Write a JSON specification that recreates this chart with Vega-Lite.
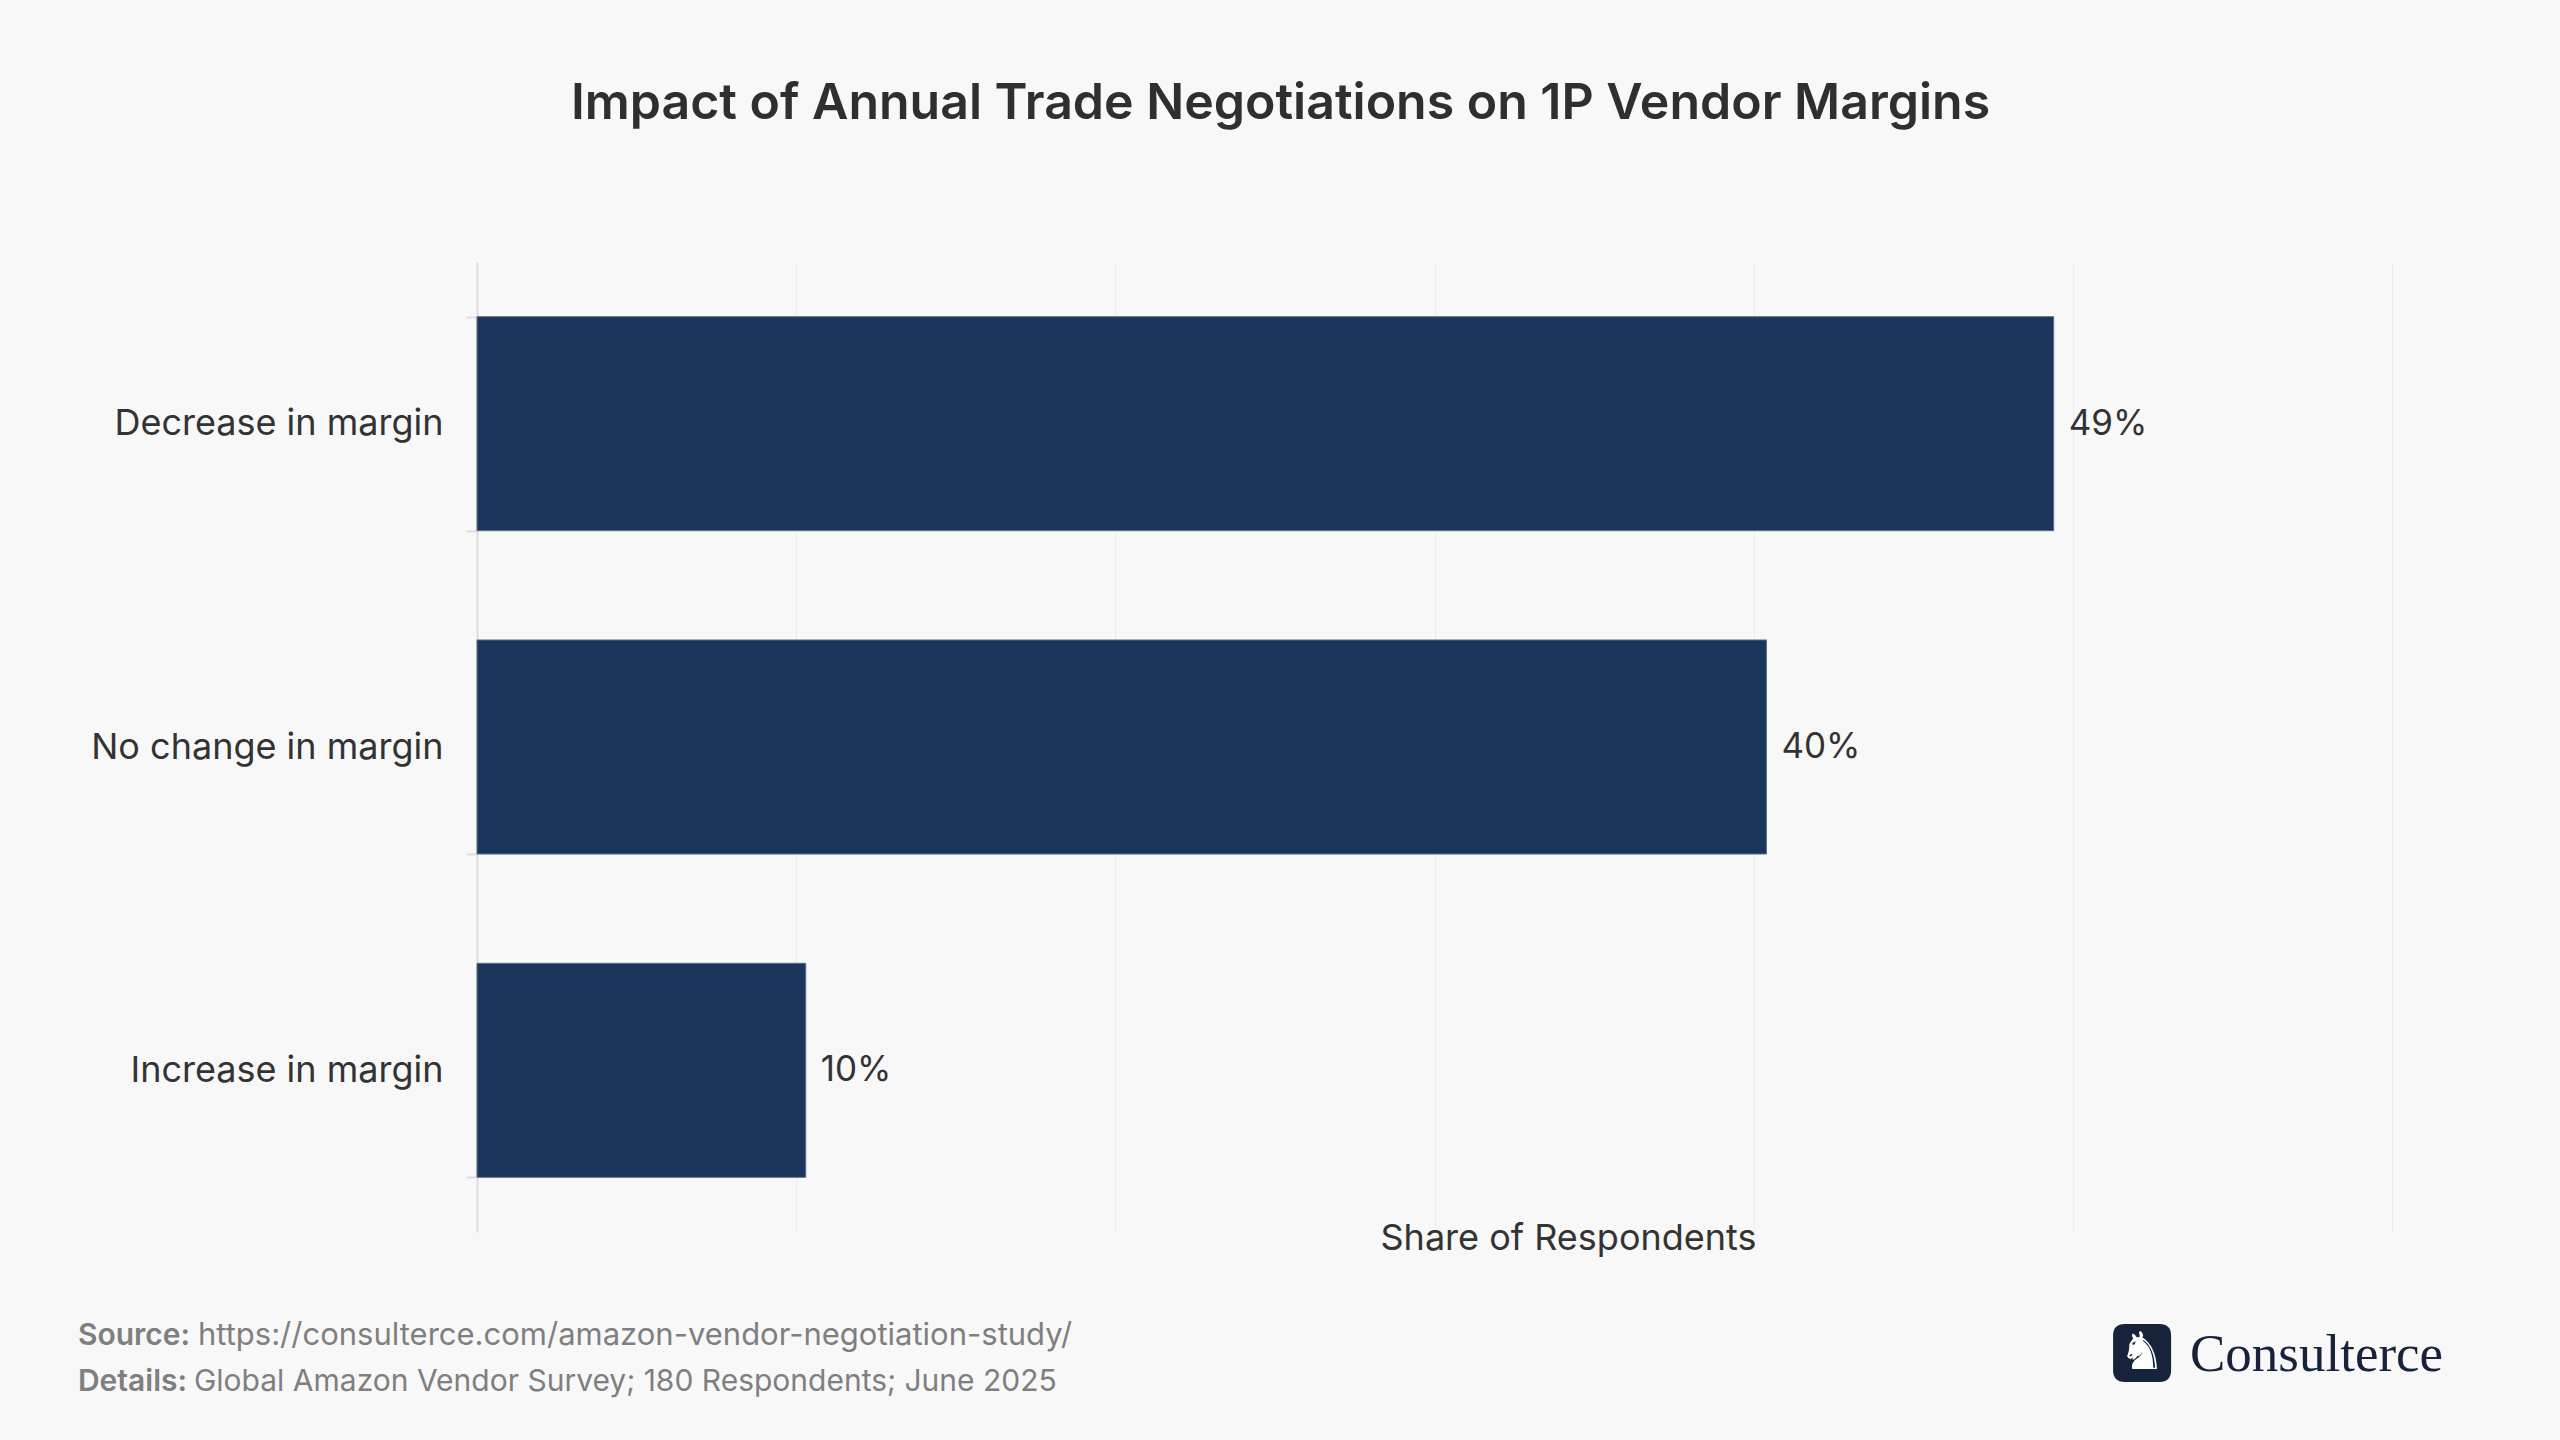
{
  "$schema": "https://vega.github.io/schema/vega-lite/v6.json",
  "width": 1915,
  "height": 970,
  "autosize": {"type": "none"},
  "padding": {"left": 477, "top": 262, "right": 168, "bottom": 208},
  "background": "#f8f8f8",
  "title": {
    "text": "Impact of Annual Trade Negotiations on 1P Vendor Margins",
    "anchor": "middle",
    "frame": "group",
    "dx": -154,
    "offset": 75,
    "font": "Inter",
    "fontSize": 50,
    "fontWeight": 600,
    "color": "#2f2f2f",
    "baseline": "alphabetic"
  },
  "config": {
    "view": {"stroke": null},
    "font": "Inter"
  },
  "layer": [
    {
      "data": {
        "values": [
          {"response": "Decrease in margin", "share": 0.494},
          {"response": "No change in margin", "share": 0.404},
          {"response": "Increase in margin", "share": 0.103}
        ]
      },
      "encoding": {
        "y": {
          "field": "response",
          "type": "nominal",
          "sort": null,
          "scale": {"paddingInner": 0.338, "paddingOuter": 0.169},
          "axis": {
            "title": null,
            "domainColor": "#dcdcdc",
            "domainWidth": 2,
            "tickColor": "#dcdcdc",
            "tickWidth": 2,
            "tickSize": 11,
            "tickBand": "extent",
            "labelPadding": 23,
            "labelLimit": 0,
            "labelFont": "Inter",
            "labelFontSize": 36,
            "labelColor": "#333333",
            "grid": false
          }
        },
        "x": {
          "field": "share",
          "type": "quantitative",
          "scale": {"domain": [0, 0.6], "nice": false},
          "axis": {
            "title": "Share of Respondents",
            "values": [0.1, 0.2, 0.3, 0.4, 0.5, 0.6],
            "grid": true,
            "gridColor": "#ececec",
            "gridWidth": 1,
            "labels": false,
            "ticks": false,
            "domain": false,
            "titleX": 1091,
            "titleY": 17,
            "titleAlign": "center",
            "titleBaseline": "alphabetic",
            "titleFont": "Inter",
            "titleFontSize": 36,
            "titleFontWeight": 400,
            "titleColor": "#333333"
          }
        }
      },
      "layer": [
        {"mark": {"type": "bar", "color": "#1b365d", "stroke": "#5b6d88", "strokeWidth": 1}},
        {
          "mark": {"type": "text", "align": "left", "baseline": "middle", "dx": 15, "font": "Inter", "fontSize": 35, "color": "#333333"},
          "encoding": {"text": {"field": "share", "type": "quantitative", "format": ".0%"}}
        }
      ]
    },
    {
      "layer": [
        {
          "data": {"values": [{"note": "Source:"}]},
          "mark": {"type": "text", "align": "left", "baseline": "alphabetic", "font": "Inter", "fontSize": 30, "fontWeight": 600, "color": "#7f7f7f"},
          "encoding": {
            "x": {"datum": -0.2084, "type": "quantitative", "scale": {"domain": [0, 1]}, "axis": null},
            "y": {"datum": 1.1165, "type": "quantitative", "scale": {"domain": [0, 1], "reverse": true}, "axis": null},
            "text": {"field": "note"}
          }
        },
        {
          "data": {"values": [{"note": "https://consulterce.com/amazon-vendor-negotiation-study/"}]},
          "mark": {"type": "text", "align": "left", "baseline": "alphabetic", "font": "Inter", "fontSize": 31, "color": "#7f7f7f"},
          "encoding": {
            "x": {"datum": -0.1457, "type": "quantitative"},
            "y": {"datum": 1.1165, "type": "quantitative"},
            "text": {"field": "note"}
          }
        },
        {
          "data": {"values": [{"note": "Details:"}]},
          "mark": {"type": "text", "align": "left", "baseline": "alphabetic", "font": "Inter", "fontSize": 30, "fontWeight": 600, "color": "#7f7f7f"},
          "encoding": {
            "x": {"datum": -0.2084, "type": "quantitative"},
            "y": {"datum": 1.1639, "type": "quantitative"},
            "text": {"field": "note"}
          }
        },
        {
          "data": {"values": [{"note": "Global Amazon Vendor Survey; 180 Respondents; June 2025"}]},
          "mark": {"type": "text", "align": "left", "baseline": "alphabetic", "font": "Inter", "fontSize": 30, "color": "#7f7f7f"},
          "encoding": {
            "x": {"datum": -0.1478, "type": "quantitative"},
            "y": {"datum": 1.1639, "type": "quantitative"},
            "text": {"field": "note"}
          }
        },
        {
          "data": {"values": [{"brand": "Consulterce"}]},
          "mark": {
            "type": "point",
            "filled": true,
            "opacity": 1,
            "color": "#16233b",
            "size": 3364,
            "shape": "M -0.6,-1 L 0.6,-1 Q 1,-1 1,-0.6 L 1,0.6 Q 1,1 0.6,1 L -0.6,1 Q -1,1 -1,0.6 L -1,-0.6 Q -1,-1 -0.6,-1 Z"
          },
          "encoding": {
            "x": {"datum": 0.8695, "type": "quantitative"},
            "y": {"datum": 1.1247, "type": "quantitative"}
          }
        },
        {
          "data": {"values": [{"icon": "♞"}]},
          "mark": {"type": "text", "align": "center", "baseline": "middle", "font": "DejaVu Sans", "fontSize": 52, "color": "#ffffff"},
          "encoding": {
            "x": {"datum": 0.8695, "type": "quantitative"},
            "y": {"datum": 1.1247, "type": "quantitative"},
            "text": {"field": "icon"}
          }
        },
        {
          "data": {"values": [{"brand": "Consulterce"}]},
          "mark": {"type": "text", "align": "left", "baseline": "alphabetic", "font": "Liberation Serif", "fontSize": 53, "color": "#16233b"},
          "encoding": {
            "x": {"datum": 0.8945, "type": "quantitative"},
            "y": {"datum": 1.1433, "type": "quantitative"},
            "text": {"field": "brand"}
          }
        }
      ]
    }
  ],
  "resolve": {"scale": {"x": "independent", "y": "independent"}}
}
